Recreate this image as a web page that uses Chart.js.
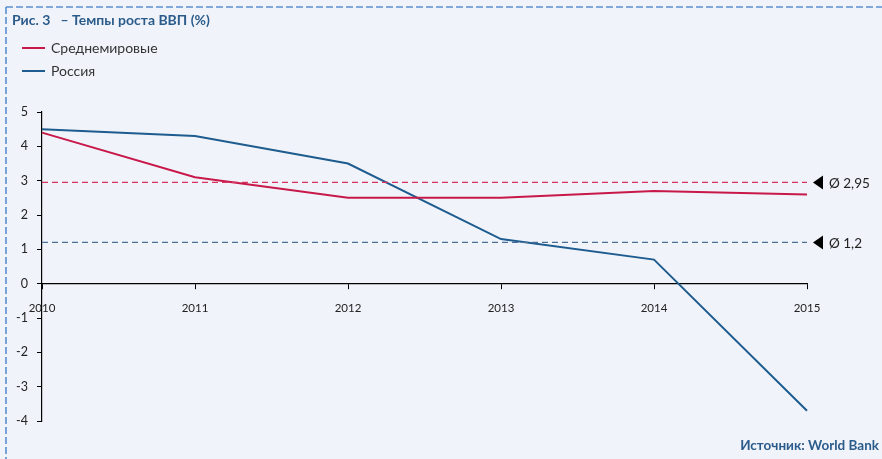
<!DOCTYPE html>
<html>
<head>
<meta charset="utf-8">
<script src="https://cdn.jsdelivr.net/npm/chart.js@4.4.0/dist/chart.umd.min.js"></script>
<style>
  html, body { margin:0; padding:0; background:#f0f4fa; }
  #wrap { position:relative; width:882px; height:459px; overflow:hidden; background:#f0f4fa; font-family:"Lato","Open Sans",sans-serif; }
  svg#frame { position:absolute; left:0; top:0; }
  canvas { position:absolute; left:0; top:0; }
  #title { position:absolute; left:12px; top:11px; font-size:14px; font-weight:bold; color:#2b5b8a; white-space:pre; }
  .leg { position:absolute; left:22px; font-size:14px; color:#333; }
  .leg span.sw { display:inline-block; width:23px; height:2px; vertical-align:middle; margin-right:6px; position:relative; top:-1px; }
  #source { position:absolute; right:3px; top:437px; font-size:13.5px; font-weight:bold; color:#2b5b8a; }
</style>
</head>
<body>
<div id="wrap">
  <canvas id="c" width="882" height="459"></canvas>
  <svg id="frame" width="882" height="459">
    <line x1="6" y1="7" x2="882" y2="7" stroke="#5b8fd0" stroke-width="1.6" stroke-dasharray="7,3"/>
    <line x1="6" y1="7" x2="6" y2="459" stroke="#5b8fd0" stroke-width="1.6" stroke-dasharray="7,3"/>
  </svg>
  <div id="title">Рис. 3   – Темпы роста ВВП (%)</div>
  <div class="leg" style="top:39px"><span class="sw" style="background:#c8184a"></span>Среднемировые</div>
  <div class="leg" style="top:62px"><span class="sw" style="background:#1e5b8e"></span>Россия</div>
  <div id="source">Источник: World Bank</div>
</div>
<script>
const years = ["2010", "2011", "2012", "2013", "2014", "2015"];
const worldGrowth = [4.4, 3.1, 2.5, 2.5, 2.7, 2.6];
const russiaGrowth = [4.5, 4.3, 3.5, 1.3, 0.7, -3.7];
const worldAvg = 2.95;
const russiaAvg = 1.2;
const avgLabels = ["Ø 2,95", "Ø 1,2"];
const yTicks = [-4, -3, -2, -1, 0, 1, 2, 3, 4, 5];

const avgPlugin = {
  id: 'avgMarkers',
  afterDraw(chart) {
    const ctx = chart.ctx;
    const ys = chart.scales.y;
    const right = chart.chartArea.right;
    [[worldAvg, avgLabels[0]], [russiaAvg, avgLabels[1]]].forEach(([v, lbl]) => {
      const py = ys.getPixelForValue(v);
      ctx.save();
      ctx.fillStyle = '#000';
      ctx.beginPath();
      ctx.moveTo(right + 6, py);
      ctx.lineTo(right + 16, py - 7);
      ctx.lineTo(right + 16, py + 7);
      ctx.closePath();
      ctx.fill();
      ctx.fillStyle = '#222';
      ctx.font = '13.5px Lato, "Open Sans", sans-serif';
      ctx.textBaseline = 'middle';
      ctx.textAlign = 'left';
      ctx.fillText(lbl, right + 22, py + 1);
      ctx.restore();
    });
  }
};

new Chart(document.getElementById('c'), {
  type: 'line',
  data: {
    labels: years,
    datasets: [
      { label: 'Среднее мир', data: years.map(() => worldAvg), borderColor: '#d8325e', borderWidth: 1.2, borderDash: [6, 4], pointRadius: 0, tension: 0 },
      { label: 'Среднее Россия', data: years.map(() => russiaAvg), borderColor: '#4c6f93', borderWidth: 1.2, borderDash: [6, 4], pointRadius: 0, tension: 0 },
      { label: 'Среднемировые', data: worldGrowth, borderColor: '#c8184a', borderWidth: 2, pointRadius: 0, tension: 0 },
      { label: 'Россия', data: russiaGrowth, borderColor: '#1e5b8e', borderWidth: 2, pointRadius: 0, tension: 0 }
    ]
  },
  options: {
    responsive: false,
    animation: false,
    events: [],
    layout: { padding: { left: 0, right: 75, top: 112, bottom: 38 } },
    plugins: { legend: { display: false }, tooltip: { enabled: false }, title: { display: false } },
    scales: {
      x: {
        type: 'category',
        position: { y: 0 },
        offset: false,
        grid: { drawOnChartArea: false, drawTicks: true, tickLength: 5, color: '#000', lineWidth: 1 },
        border: { display: true, color: '#000', width: 1.2 },
        ticks: { color: '#222', font: { family: 'Lato, "Open Sans", sans-serif', size: 11.5 }, padding: 13, maxRotation: 0, autoSkip: false },
        afterFit(scale) { scale.height = 0; }
      },
      y: {
        min: -4, max: 5,
        position: 'left',
        afterBuildTicks(scale) { scale.ticks = yTicks.map(v => ({ value: v })); },
        grid: { drawOnChartArea: false, drawTicks: true, tickLength: 5, color: '#000', lineWidth: 1 },
        border: { display: true, color: '#000', width: 1.2 },
        ticks: { color: '#222', font: { family: 'Lato, "Open Sans", sans-serif', size: 12.5 }, padding: 9, callback: v => String(v) },
        afterFit(scale) { scale.width = 42; }
      }
    }
  },
  plugins: [avgPlugin]
});
</script>
</body>
</html>
